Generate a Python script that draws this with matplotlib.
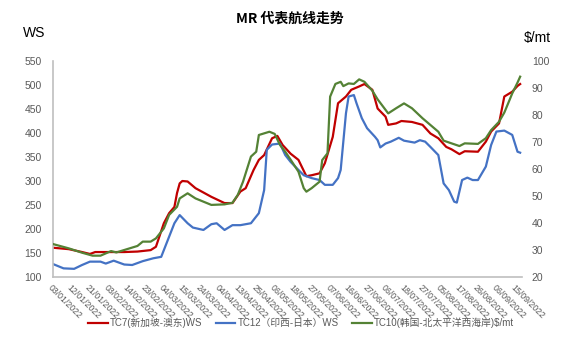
import matplotlib
matplotlib.use("Agg")
import matplotlib.pyplot as plt

plt.rcParams['font.family'] = ['Liberation Sans', 'Noto Sans CJK SC', 'DejaVu Sans']

# Trading-day index of every tick label
tick_days = list(range(0, 176, 7))
tick_dates = ["03/01/2022", "12/01/2022", "21/01/2022", "03/02/2022", "14/02/2022",
              "23/02/2022", "04/03/2022", "15/03/2022", "24/03/2022", "04/04/2022",
              "13/04/2022", "25/04/2022", "06/05/2022", "18/05/2022", "27/05/2022",
              "07/06/2022", "16/06/2022", "27/06/2022", "06/07/2022", "18/07/2022",
              "27/07/2022", "05/08/2022", "17/08/2022", "26/08/2022", "06/09/2022",
              "15/09/2022"]

# TC7 Singapore - East Australia (WS)
tc7_day = [0, 6, 11, 14, 16, 22, 27, 32, 37, 39, 42, 44, 46, 47, 48, 49, 51, 54, 60, 65,
           68, 71, 73, 76, 78, 80, 83, 85, 87, 90, 93, 96, 98, 101, 103, 106, 108, 111,
           113, 116, 118, 121, 123, 126, 127, 130, 132, 136, 140, 143, 146, 149, 151,
           154, 156, 161, 164, 166, 169, 171, 174, 176, 177]
tc7_ws = [161, 158, 152, 148, 152, 152, 152, 153, 156, 163, 212, 233, 246, 275, 295, 300,
          299, 285, 267, 254, 254, 278, 285, 323, 344, 354, 389, 394, 375, 357, 344, 310,
          312, 316, 337, 392, 462, 476, 490, 497, 502, 490, 451, 434, 417, 420, 425, 423,
          417, 399, 389, 371, 366, 356, 362, 361, 382, 403, 420, 476, 486, 498, 502]

# TC12 West India - Japan (WS)
tc12_day = [0, 4, 8, 11, 14, 18, 20, 23, 27, 30, 34, 38, 41, 42, 44, 46, 48, 51, 53, 57,
            60, 62, 65, 68, 71, 75, 78, 80, 81, 83, 86, 88, 90, 93, 95, 98, 101, 103, 106,
            108, 109, 111, 112, 114, 115, 117, 119, 122, 123, 124, 126, 128, 131, 133, 137,
            139, 141, 143, 146, 148, 150, 152, 153, 155, 157, 159, 161, 164, 166, 168, 171,
            174, 176, 177]
tc12_ws = [127, 118, 117, 125, 132, 132, 128, 134, 126, 125, 133, 139, 142, 156, 184, 212,
           229, 212, 203, 198, 210, 212, 198, 208, 208, 212, 233, 281, 365, 376, 378, 354,
           340, 323, 312, 306, 302, 292, 292, 306, 323, 441, 476, 479, 462, 431, 410, 392,
           385, 370, 378, 382, 390, 384, 380, 385, 382, 371, 354, 295, 281, 257, 255, 302,
           307, 302, 302, 330, 375, 403, 405, 396, 361, 359]

# TC10 South Korea - North Pacific West Coast ($/mt)
tc10_day = [0, 6, 11, 15, 18, 22, 24, 29, 32, 34, 37, 39, 42, 44, 47, 48, 51, 54, 60, 65,
            68, 70, 72, 75, 77, 78, 82, 84, 86, 88, 90, 93, 95, 96, 98, 101, 102, 104, 105,
            107, 109, 110, 112, 114, 116, 118, 121, 123, 126, 127, 130, 133, 136, 140, 143,
            146, 148, 151, 154, 156, 161, 164, 166, 169, 171, 173, 174, 176, 177]
tc10_usd = [32.2, 30.6, 29.0, 27.9, 27.9, 29.6, 29.1, 30.6, 31.5, 33.1, 33.1, 34.3, 38.0,
            43.0, 46.0, 49.1, 51.0, 49.1, 46.7, 46.9, 47.5, 50.4, 55.3, 64.6, 66.4, 72.6,
            73.8, 73.0, 68.9, 66.4, 63.5, 59.0, 52.9, 51.6, 52.9, 55.3, 63.3, 65.8, 86.8,
            91.5, 92.3, 90.7, 91.7, 91.5, 93.2, 92.3, 89.0, 85.8, 81.9, 80.6, 82.5, 84.3,
            82.5, 78.8, 76.3, 73.8, 70.5, 69.5, 68.5, 69.5, 69.3, 71.4, 74.4, 77.5, 80.9,
            85.6, 88.0, 92.0, 94.2]

RED = "#C00000"
BLUE = "#4472C4"
GREEN = "#548235"
GREY_TXT = "#595959"
AXIS_GREY = "#BFBFBF"

fig = plt.figure(figsize=(5.7, 3.5), dpi=100)
ax = fig.add_axes([53 / 570, 1 - 277 / 350, (522 - 53) / 570, (277 - 61) / 350])
ax2 = ax.twinx()

l1, = ax.plot(tc7_day, tc7_ws, color=RED, lw=1.6, label="TC7(新加坡-澳东)WS")
l2, = ax.plot(tc12_day, tc12_ws, color=BLUE, lw=1.6, label="TC12（印西-日本）WS")
l3, = ax2.plot(tc10_day, tc10_usd, color=GREEN, lw=1.6, label="TC10(韩国-北太平洋西海岸)$/mt")

ax.set_xlim(0, 177.7)
ax.set_ylim(100, 550)
ax.set_yticks(range(100, 551, 50))
ax2.set_ylim(20, 100)
ax2.set_yticks(range(20, 101, 10))

ax.set_xticks(tick_days)
ax.set_xticklabels(tick_dates, rotation=-45, ha="left", va="top",
                   rotation_mode="anchor", fontsize=6.3, color=GREY_TXT)
ax.tick_params(axis="x", length=0, pad=4)
ax.tick_params(axis="y", length=0, pad=8, labelsize=7.5, labelcolor=GREY_TXT)
ax2.tick_params(axis="y", length=0, pad=7, labelsize=7.5, labelcolor=GREY_TXT)

for a in (ax, ax2):
    for side in ("top", "right"):
        a.spines[side].set_visible(False)
ax2.spines["left"].set_visible(False)
ax2.spines["bottom"].set_visible(False)
ax.spines["left"].set_color(AXIS_GREY)
ax.spines["bottom"].set_color(AXIS_GREY)
ax.spines["left"].set_linewidth(1.2)
ax.spines["bottom"].set_linewidth(1.2)

fig.text(290 / 570, 1 - 19 / 350, "MR 代表航线走势", ha="center", va="center",
         fontsize=10, fontweight="bold", family=["Noto Sans CJK SC"])
fig.text(34 / 570, 1 - 33 / 350, "WS", ha="center", va="center", fontsize=10)
fig.text(537 / 570, 1 - 38 / 350, "$/mt", ha="center", va="center", fontsize=10)

fig.legend(handles=[l1, l2, l3], loc="center", bbox_to_anchor=(301 / 570, 1 - 323 / 350),
           ncol=3, frameon=False, fontsize=7, handlelength=2.0, handletextpad=0.2,
           columnspacing=1.4, labelcolor=GREY_TXT)

fig.savefig("out.png", dpi=100)
